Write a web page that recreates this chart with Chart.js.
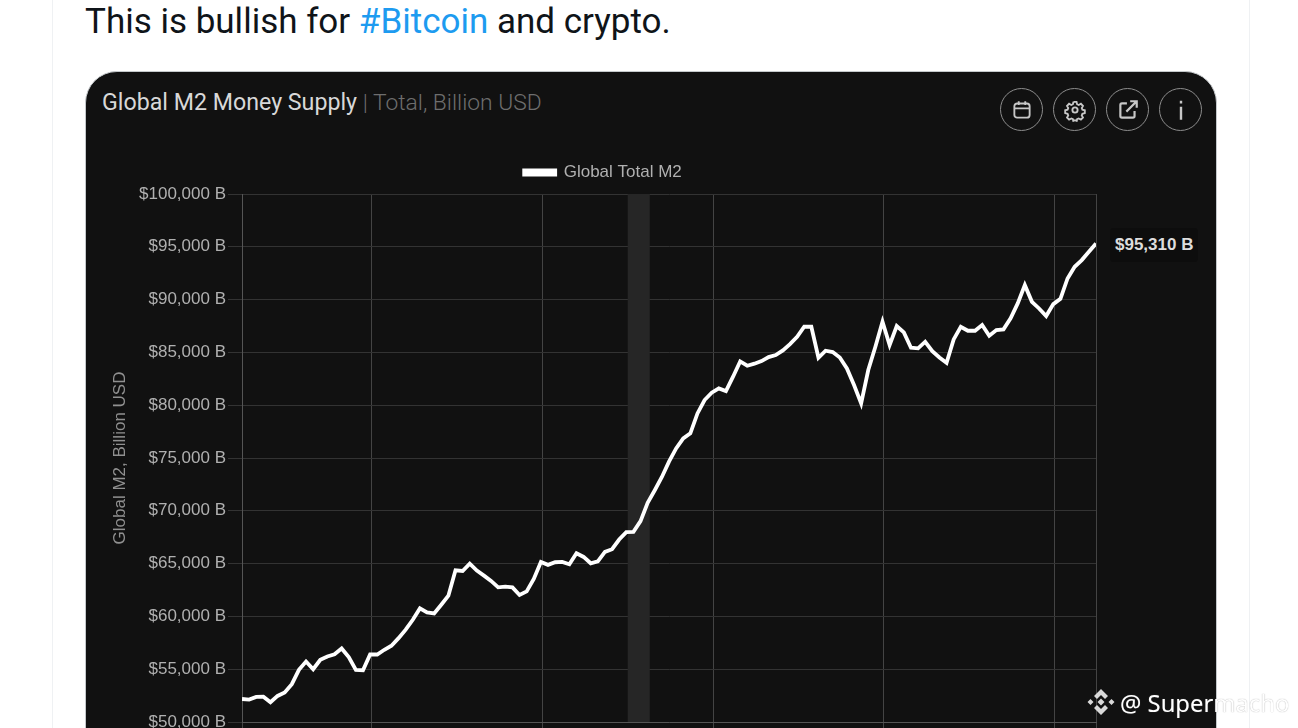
<!DOCTYPE html>
<html>
<head>
<meta charset="utf-8">
<title>Global M2 Money Supply</title>
<script src="https://cdn.jsdelivr.net/npm/chart.js@4/dist/chart.umd.min.js"></script>
<style>
  html, body { margin: 0; height: 728px; overflow: hidden; background: #fff; }
  .rule { position: absolute; top: 0; width: 1px; height: 728px; background: #eff1f3; }
  #tweet { position: absolute; left: 85px; top: 0; font: 400 35px/44px Roboto, sans-serif; color: #0f1419; white-space: nowrap; }
  #tweet span { color: #1d9bf0; }
  #card { position: absolute; left: 85px; top: 71px; width: 1130px; height: 720px; background: #111; border: 1px solid #c4c8cb; border-radius: 32px; }
  #title { position: absolute; left: 102px; top: 86px; font: 400 23.2px/32px Roboto, sans-serif; color: #d8d8d8; white-space: nowrap; }
  #title span { color: #6e6e6e; font-weight: 300; font-size: 22.8px; }
  .btn { position: absolute; top: 88px; width: 41px; height: 41px; border: 1.7px solid #8c8c8c; border-radius: 50%; }
  .btn svg { position: absolute; left: 8.500px; top: 8.500px; width: 24px; height: 24px; fill: none; stroke: #c8c8c8; stroke-width: 1.7; }
  #chart { position: absolute; left: 0; top: 0; }
  #lastTag { position: absolute; padding: 0 5px; height: 34px; font: 700 17px/34px "Liberation Sans", sans-serif; color: #ddd; background: #0d0d0d; border-radius: 4px; white-space: nowrap; }
  #mark { position: absolute; left: 1087px; top: 688px; width: 28px; height: 28px; fill: #d9d9d9; }
  #markText { position: absolute; left: 1120px; top: 686px; font: 400 23.8px/34px "Noto Sans", sans-serif; color: #fff; white-space: nowrap; text-shadow: 0 0 1px rgba(120,120,120,.75); }
</style>
</head>
<body>
<div class="rule" style="left:52px"></div>
<div class="rule" style="left:1249px"></div>
<div id="tweet">This is bullish for <span>#Bitcoin</span> and crypto.</div>
<div id="card"></div>
<div id="title">Global M2 Money Supply <span>| Total, Billion USD</span></div>

<div class="btn" style="left:1000px"><svg viewBox="0 0 22 22"><rect x="4" y="5" width="14" height="13" rx="2.500"/><path d="M4 9.500h14M8 3v3.500M14 3v3.500"/></svg></div>
<div class="btn" style="left:1053px"><svg viewBox="0 0 22 22"><circle cx="11" cy="11" r="2.400"/><path d="M9.600 3.500h2.800l.5 2.200 1.500.7 2-1.100 1.900 2-1.100 1.900.6 1.500 2.200.6v2.600l-2.200.6-.6 1.500 1.100 1.900-1.900 2-2-1.100-1.500.7-.5 2.200"/><path d="M9.600 3.500l-.5 2.200-1.500.7-2-1.100-1.900 2 1.100 1.900-.6 1.500-2.200.6v2.600l2.200.6.6 1.500-1.100 1.900 1.900 2 2-1.100 1.500.7.5 2.200" /><path d="M9.600 20.500h2.800" /></svg></div>
<div class="btn" style="left:1106px"><svg viewBox="0 0 22 22" style="stroke-width:2"><path d="M10 5H5.500A1.500 1.500 0 0 0 4 6.500v10A1.500 1.500 0 0 0 5.500 18h10a1.500 1.500 0 0 0 1.500-1.500V12M9.500 12.500L18.500 3.500M13 3h6v6"/></svg></div>
<div class="btn" style="left:1159px"><svg viewBox="0 0 22 22" style="stroke-width:2.200"><path d="M11 2.500v2.500M11 8v12"/></svg></div>

<canvas id="chart" width="1188" height="770"></canvas>
<div id="lastTag"></div>

<svg id="mark" viewBox="0 0 28 28"><path d="M14 1l7 7-3 3-4-4-4 4-3-3zM14 27l-7-7 3-3 4 4 4-4 3 3zM3.500 11l3 3-3 3-3-3zM24.500 11l3 3-3 3-3-3zM14 10.500l3.500 3.500-3.500 3.500-3.500-3.500z"/></svg>
<div id="markText">@ Supermacho</div>

<script>
// Monthly values in billion USD
const months = Array.from({ length: 121 }, (_, i) => i);
const m2Values = [
  52180, 52120, 52370, 52400, 51870, 52470, 52790, 53580, 54940, 55730, 55000,
  55890, 56200, 56420, 56960, 56140, 54940, 54900, 56390, 56390, 56840, 57220,
  57940, 58740, 59680, 60760, 60380, 60280, 61110, 61960, 64370, 64300, 65000,
  64340, 63860, 63360, 62750, 62820, 62750, 62030, 62370, 63550, 65160, 64880,
  65130, 65160, 64940, 65980, 65630, 65030, 65220, 66110, 66360, 67280, 67980,
  68010, 69020, 70750, 71950, 73200, 74650, 75910, 76860, 77330, 79220, 80490,
  81180, 81590, 81340, 82700, 84150, 83740, 83930, 84180, 84560, 84750, 85190,
  85790, 86480, 87430, 87430, 84490, 85160, 85030, 84520, 83480, 81910, 80170,
  83330, 85530, 87900, 85690, 87490, 86890, 85440, 85380, 86010, 85120, 84520,
  84020, 86230, 87430, 87050, 87050, 87590, 86580, 87110, 87180, 88220, 89640,
  91370, 89790, 89160, 88440, 89570, 90080, 92000, 93110, 93740, 94530, 95310
];
const xTickIndex = [0, 18.25, 42.2, 66.2, 90.2, 114.2, 120];
const xTickLabels = ['', 'Jan 17', 'Jan 19', 'Jan 21', 'Jan 23', 'Jan 25', ''];
const yTicks = [50000, 55000, 60000, 65000, 70000, 75000, 80000, 85000, 90000, 95000, 100000];
const shadedBand = [54.2, 57.3];
const seriesName = 'Global Total M2';
const yAxisName = 'Global M2, Billion USD';

const money = v => '$' + v.toLocaleString('en-US') + ' B';

// Grey recession band behind the line
const bandPlugin = {
  id: 'band',
  beforeDatasetsDraw(chart) {
    const { ctx, chartArea, scales } = chart;
    const x0 = scales.x.getPixelForValue(shadedBand[0]);
    const x1 = scales.x.getPixelForValue(shadedBand[1]);
    ctx.save();
    ctx.fillStyle = '#262626';
    ctx.fillRect(x0, chartArea.top, x1 - x0, chartArea.bottom - chartArea.top);
    ctx.restore();
  }
};

// Value tag to the right of the last point
const tagPlugin = {
  id: 'tag',
  afterRender(chart) {
    const last = m2Values.length - 1;
    const tag = document.getElementById('lastTag');
    tag.textContent = money(m2Values[last]);
    tag.style.left = (chart.scales.x.getPixelForValue(last) + 14) + 'px';
    tag.style.top = (chart.scales.y.getPixelForValue(m2Values[last]) - 16) + 'px';
  }
};

// A little more room under the legend
const legendGapPlugin = {
  id: 'legendGap',
  beforeInit(chart) {
    const fit = chart.legend.fit;
    chart.legend.fit = function () {
      fit.call(this);
      this.height += 3;
    };
  }
};

new Chart(document.getElementById('chart').getContext('2d'), {
  type: 'line',
  data: {
    datasets: [{
      label: seriesName,
      data: months.map((m, i) => ({ x: m, y: m2Values[i] })),
      borderColor: '#ffffff',
      backgroundColor: '#ffffff',
      borderWidth: 3.8,
      pointRadius: 0,
      tension: 0,
      borderJoinStyle: 'miter'
    }]
  },
  options: {
    responsive: false,
    animation: false,
    layout: { padding: { left: 110, right: 92, top: 154, bottom: 0 } },
    plugins: {
      tooltip: { enabled: false },
      legend: {
        position: 'top',
        labels: {
          color: '#b0b0b0',
          font: { family: '"Liberation Sans"', size: 17 },
          boxWidth: 31,
          boxHeight: 4,
          padding: 10
        }
      }
    },
    scales: {
      x: {
        type: 'linear',
        min: 0,
        max: 120,
        afterBuildTicks(scale) { scale.ticks = xTickIndex.map(value => ({ value })); },
        afterFit(scale) { scale.height = 48; },
        grid: { color: '#444444', tickColor: '#444444', tickLength: 10 },
        border: { color: '#555555' },
        ticks: {
          autoSkip: false,
          maxRotation: 0,
          color: '#b0b0b0',
          font: { family: '"Liberation Sans"', size: 17 },
          callback: (v, i) => xTickLabels[i]
        }
      },
      y: {
        min: 50000,
        max: 100000,
        afterBuildTicks(scale) { scale.ticks = yTicks.map(value => ({ value })); },
        afterFit(scale) { scale.width = 132; },
        title: {
          display: true,
          text: yAxisName,
          color: '#909090',
          font: { family: '"Liberation Sans"', size: 17 },
          padding: { top: 0, bottom: 0 }
        },
        grid: { color: '#333333', tickColor: '#333333', tickLength: 14 },
        border: { color: '#555555' },
        ticks: {
          color: '#b0b0b0',
          padding: 2,
          font: { family: '"Liberation Sans"', size: 17 },
          callback: v => money(v)
        }
      }
    }
  },
  plugins: [bandPlugin, tagPlugin, legendGapPlugin]
});
</script>
</body>
</html>
